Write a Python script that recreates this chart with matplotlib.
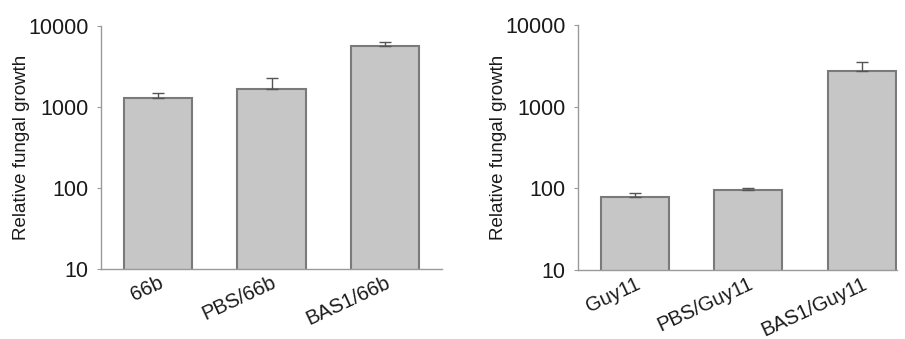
import numpy as np
import matplotlib
matplotlib.use("Agg")
import matplotlib.pyplot as plt

plt.rcParams['font.family'] = ['Liberation Sans', 'DejaVu Sans']

# left panel: 66b
labels_a = ['66b', 'PBS/66b', 'BAS1/66b']
growth_a = [1290, 1670, 5650]
err_a = [200, 620, 680]

# right panel: Guy11
labels_b = ['Guy11', 'PBS/Guy11', 'BAS1/Guy11']
growth_b = [79, 94.5, 2760]
err_b = [9, 6, 790]

bar_col = '#c6c6c6'
edge_col = '#7a7a7a'
spine_col = '#9a9a9a'
text_col = '#1a1a1a'

fig = plt.figure(figsize=(9.05, 3.39), dpi=100)
ax1 = fig.add_axes([0.1116, 0.2065, 0.3768, 0.7168])
ax2 = fig.add_axes([0.6387, 0.2035, 0.3525, 0.7225])


def draw_panel(ax, labels, vals, errs, xmax):
    x = np.arange(len(vals))
    ax.bar(x, vals, width=0.6, color=bar_col, edgecolor=edge_col, linewidth=1.5, zorder=2)
    ax.errorbar(x, vals, yerr=[np.zeros(len(errs)), errs], fmt='none',
                ecolor='#555555', elinewidth=1.0, capsize=4, capthick=1.0, zorder=3)
    ax.set_yscale('log')
    ax.set_ylim(10, 10000)
    ax.set_xlim(-0.5, xmax)
    ax.minorticks_off()
    ax.set_yticks([10, 100, 1000, 10000])
    ax.set_yticklabels(['10', '100', '1000', '10000'], fontsize=15.5, color=text_col)
    ax.minorticks_off()
    ax.set_xticks(x)
    ax.set_xticklabels(labels, rotation=25, ha='right', rotation_mode='anchor',
                       fontsize=14.5, color=text_col)
    ax.tick_params(axis='x', length=0, pad=3)
    ax.tick_params(axis='y', direction='out', length=3, width=0.8, color=spine_col, pad=6)
    for s in ['top', 'right']:
        ax.spines[s].set_visible(False)
    for s in ['left', 'bottom']:
        ax.spines[s].set_color(spine_col)
        ax.spines[s].set_linewidth(1.0)
    ax.set_ylabel('Relative fungal growth', fontsize=13.5, labelpad=-1, color=text_col)


draw_panel(ax1, labels_a, growth_a, err_a, 2.5)
draw_panel(ax2, labels_b, growth_b, err_b, 2.31)

fig.savefig('out.png', dpi=100)
